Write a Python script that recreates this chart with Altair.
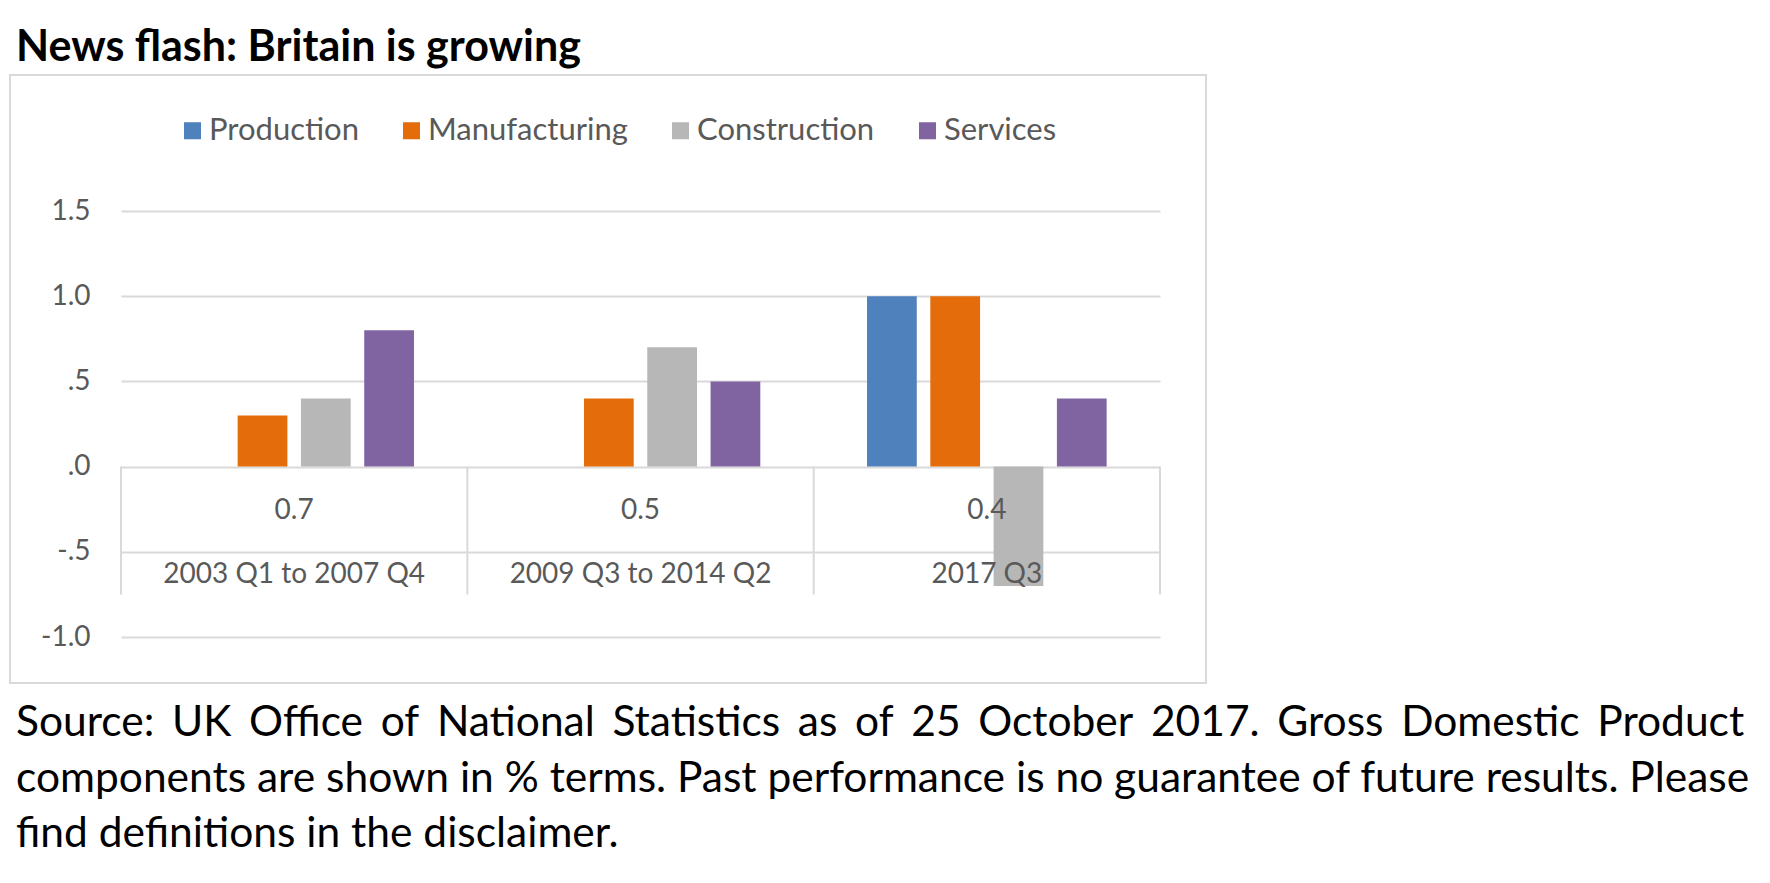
import altair as alt
import pandas as pd

# ---- data ----
periods = ["2003 Q1 to 2007 Q4", "2009 Q3 to 2014 Q2", "2017 Q3"]
gdp_growth = ["0.7", "0.5", "0.4"]
series = ["Production", "Manufacturing", "Construction", "Services"]
production = [None, None, 1.0]
manufacturing = [0.3, 0.4, 1.0]
construction = [0.4, 0.7, -0.7]
services = [0.8, 0.5, 0.4]
y_ticks = [-1.0, -0.5, 0.0, 0.5, 1.0, 1.5]
colors = ["#4F81BD", "#E46C0A", "#B7B7B7", "#8064A2"]

title_text = "News flash: Britain is growing"
note_lines = [
    "Source: UK Office of National Statistics as of 25 October 2017. Gross Domestic Product".replace(" ", "\u2005\u2006"),
    "components are shown in % terms. Past performance is no guarantee of future results. Please",
    "find definitions in the disclaimer.",
]

FONT = "Lato"
GREY_TXT = "#595959"
GRID = "#D9D9D9"

rows = []
for s, vals in zip(series, [production, manufacturing, construction, services]):
    for p, v in zip(periods, vals):
        rows.append({"period": p, "series": s, "value": v})
bars_df = pd.DataFrame(rows)
labels_df = pd.DataFrame({"period": periods, "growth": gdp_growth})
one = pd.DataFrame({"k": [0]})

x_enc = alt.X("period:N", sort=periods,
              scale=alt.Scale(domain=periods, paddingInner=0, paddingOuter=0),
              axis=None)

label_expr = ("datum.value == 0 ? '.0' : datum.value == 0.5 ? '.5' : "
              "datum.value == -0.5 ? '-.5' : datum.value == -1 ? '-1.0' : format(datum.value, '.1f')")

bars = alt.Chart(bars_df).mark_bar().encode(
    x=x_enc,
    xOffset=alt.XOffset("series:N", sort=series,
                        scale=alt.Scale(domain=series, paddingInner=0.214, paddingOuter=0.843)),
    y=alt.Y("value:Q", title=None,
            scale=alt.Scale(domain=[-1.0, 1.5], nice=False, zero=False),
            axis=alt.Axis(values=y_ticks, grid=True, gridColor=GRID, gridWidth=2,
                          domain=False, ticks=False, labelPadding=31,
                          labelFont=FONT, labelFontSize=28, labelColor=GREY_TXT,
                          labelExpr=label_expr)),
    color=alt.Color("series:N", sort=series,
                    scale=alt.Scale(domain=series, range=colors),
                    legend=alt.Legend(title=None, orient="none", direction="horizontal",
                                      legendX=56, legendY=-96,
                                      symbolType="square", symbolSize=290,
                                      symbolStrokeWidth=0, labelLimit=0,
                                      labelFont=FONT, labelFontSize=31, labelColor=GREY_TXT,
                                      labelOffset=1, columnPadding=37)),
)

sep_left = alt.Chart(labels_df).mark_rule(color=GRID, strokeWidth=2).encode(
    x=alt.X("period:N", sort=periods, bandPosition=0),
    y=alt.Y(datum=0.0),
    y2=alt.Y2(datum=-0.75),
)
sep_right = alt.Chart(labels_df.tail(1)).mark_rule(color=GRID, strokeWidth=2).encode(
    x=alt.X("period:N", sort=periods, bandPosition=1),
    y=alt.Y(datum=0.0),
    y2=alt.Y2(datum=-0.75),
)

growth_txt = alt.Chart(labels_df).mark_text(
    font=FONT, fontSize=28, color=GREY_TXT, baseline="middle"
).encode(x=alt.X("period:N", sort=periods), y=alt.Y(datum=-0.26), text="growth:N")

period_txt = alt.Chart(labels_df).mark_text(
    font=FONT, fontSize=28, color=GREY_TXT, baseline="middle"
).encode(x=alt.X("period:N", sort=periods), y=alt.Y(datum=-0.635), text="period:N")

box = alt.Chart(one).mark_rect(fillOpacity=0, stroke=GRID, strokeWidth=2).encode(
    x=alt.value(-111), x2=alt.value(1085), y=alt.value(-136), y2=alt.value(472)
)

title = alt.Chart(one).mark_text(
    text=title_text, font=FONT, fontSize=43, fontWeight="bold", color="black",
    align="left", baseline="alphabetic"
).encode(x=alt.value(-105), y=alt.value(-150))

note = alt.Chart(one).mark_text(
    text=note_lines, font=FONT, fontSize=42.5, color="black",
    align="left", baseline="middle", lineHeight=55.5
).encode(x=alt.value(-105), y=alt.value(512))

chart = alt.layer(box, bars, sep_left, sep_right, growth_txt, period_txt, title, note).properties(
    width=1039, height=426,
    padding={"left": 113, "top": 203, "right": 602, "bottom": 238},
    autosize=alt.AutoSizeParams(type="none"),
).configure_view(stroke=None)

chart.save("out.html", embed_options={"renderer": "svg", "actions": False})
